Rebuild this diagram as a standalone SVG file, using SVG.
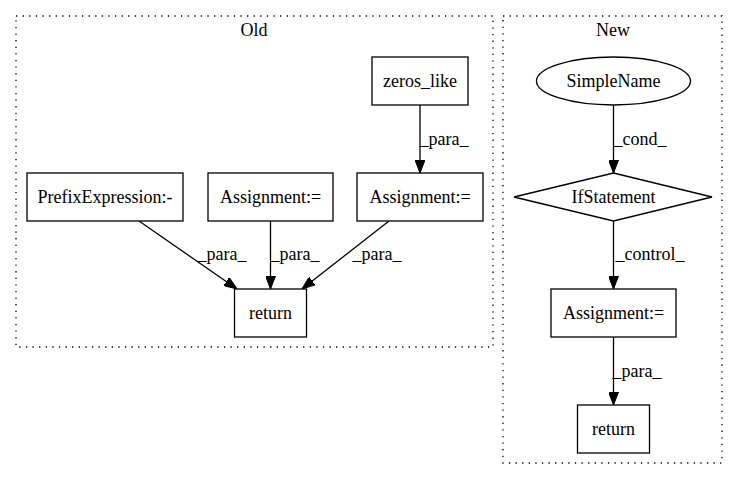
<svg xmlns="http://www.w3.org/2000/svg" width="739" height="480" viewBox="0 0 739 480">
<style>
text{font-family:'Liberation Serif','Times New Roman',Times,serif;font-size:18px;fill:#000;text-anchor:middle}
.cl{fill:none;stroke:#000;stroke-width:1.3;stroke-dasharray:1.3,5.3}
.n{fill:#fff;stroke:#000;stroke-width:1.3}
.e{fill:none;stroke:#000;stroke-width:1.3;marker-end:url(#ah)}
</style>
<defs>
<marker id="ah" viewBox="0 0 13 10" refX="13" refY="5" markerWidth="13" markerHeight="10" markerUnits="userSpaceOnUse" orient="auto">
<path d="M0,0 L13,5 L0,10 z" fill="#000" stroke="#000" stroke-width="1"/>
</marker>
</defs>
<rect width="739" height="480" fill="#fff"/>
<g id="cluster_old">
<rect class="cl" x="16" y="16" width="477" height="331"/>
<text x="254" y="36" font-family="Liberation Serif, serif">Old</text>
</g>
<g id="cluster_new">
<rect class="cl" x="503" y="16" width="219" height="447"/>
<text x="613" y="36" font-family="Liberation Serif, serif">New</text>
</g>
<g id="edges" font-family="Liberation Serif, serif">
<line class="e" x1="420" y1="105" x2="420" y2="173"/>
<text x="444" y="145">_para_</text>
<line class="e" x1="139" y1="221" x2="237" y2="289"/>
<text x="222" y="260">_para_</text>
<line class="e" x1="270.5" y1="221" x2="270.5" y2="289"/>
<text x="295" y="260">_para_</text>
<line class="e" x1="389" y1="221" x2="302" y2="289"/>
<text x="377" y="260">_para_</text>
<line class="e" x1="613.5" y1="105" x2="613.5" y2="173"/>
<text x="640" y="145">_cond_</text>
<line class="e" x1="613.5" y1="221" x2="613.5" y2="289"/>
<text x="650" y="260">_control_</text>
<line class="e" x1="613.5" y1="337" x2="613.5" y2="405"/>
<text x="637" y="377">_para_</text>
</g>
<g id="zeros_like">
<rect class="n" x="372" y="57" width="96" height="48"/>
<text x="420" y="87">zeros_like</text>
</g>
<g id="prefix_expression">
<rect class="n" x="27" y="173" width="156" height="48"/>
<text x="105" y="203">PrefixExpression:-</text>
</g>
<g id="assignment_old_1">
<rect class="n" x="208" y="173" width="125" height="48"/>
<text x="270.5" y="203">Assignment:=</text>
</g>
<g id="assignment_old_2">
<rect class="n" x="357" y="173" width="126" height="48"/>
<text x="420" y="203">Assignment:=</text>
</g>
<g id="return_old">
<rect class="n" x="234.5" y="289" width="72" height="48"/>
<text x="270.5" y="319">return</text>
</g>
<g id="simple_name">
<ellipse class="n" cx="613.5" cy="81" rx="77" ry="24"/>
<text x="613.5" y="87">SimpleName</text>
</g>
<g id="if_statement">
<polygon class="n" points="613.5,173 712,197 613.5,221 514,197"/>
<text x="613.5" y="203">IfStatement</text>
</g>
<g id="assignment_new">
<rect class="n" x="551" y="289" width="125" height="48"/>
<text x="613.5" y="319">Assignment:=</text>
</g>
<g id="return_new">
<rect class="n" x="577.5" y="405" width="72" height="48"/>
<text x="613.5" y="435">return</text>
</g>
</svg>
